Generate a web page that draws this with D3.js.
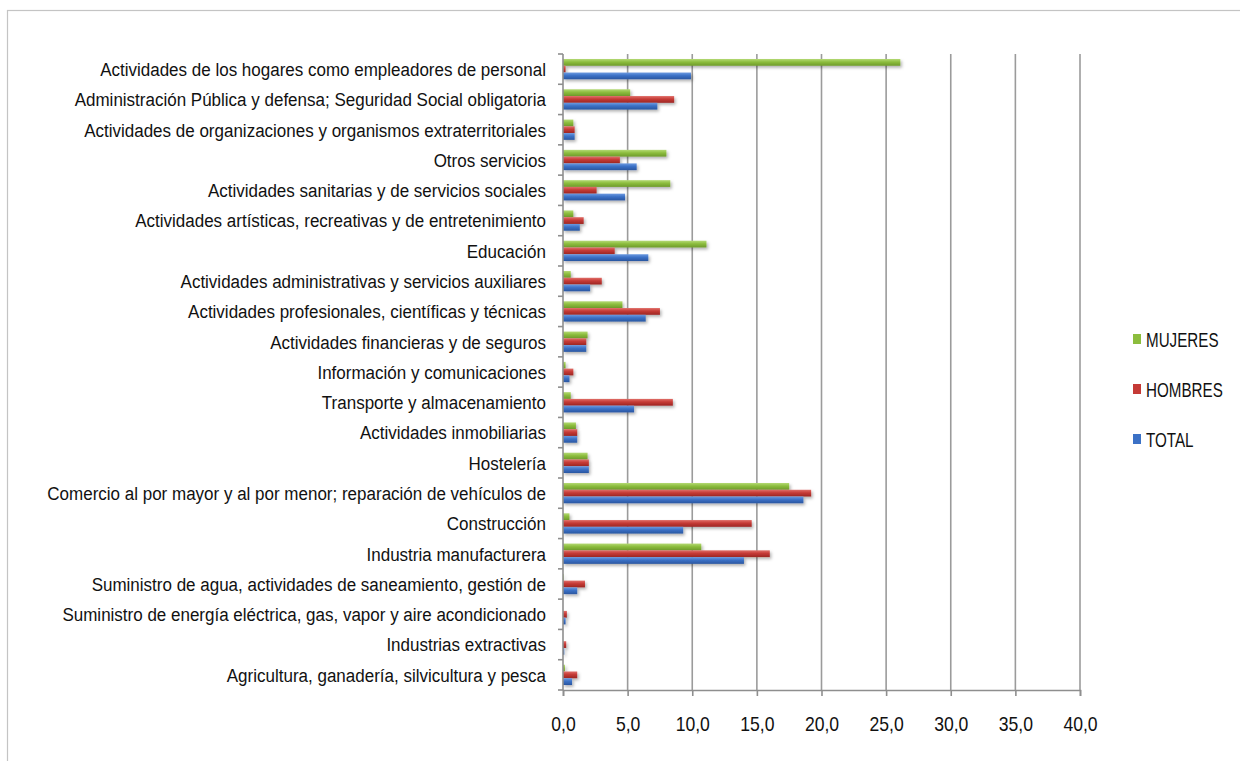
<!DOCTYPE html>
<html>
<head>
<meta charset="utf-8">
<script src="https://cdn.jsdelivr.net/npm/d3@7"></script>
<style>
  html, body { margin: 0; padding: 0; background: #fff; }
  svg { display: block; }
  text { font-family: "Liberation Sans", Arial, sans-serif; fill: #111; }
</style>
</head>
<body>
<svg id="chart" width="1240" height="761"></svg>
<script>
// Sectors, listed from the bottom of the chart to the top
const categories = [
  "Agricultura, ganadería, silvicultura y pesca",
  "Industrias extractivas",
  "Suministro de energía eléctrica, gas, vapor y aire acondicionado",
  "Suministro de agua, actividades de saneamiento, gestión de",
  "Industria manufacturera",
  "Construcción",
  "Comercio al por mayor y al por menor; reparación de vehículos de",
  "Hostelería",
  "Actividades inmobiliarias",
  "Transporte y almacenamiento",
  "Información y comunicaciones",
  "Actividades financieras y de seguros",
  "Actividades profesionales, científicas y técnicas",
  "Actividades administrativas y servicios auxiliares",
  "Educación",
  "Actividades artísticas, recreativas y de entretenimiento",
  "Actividades sanitarias y de servicios sociales",
  "Otros servicios",
  "Actividades de organizaciones y organismos extraterritoriales",
  "Administración Pública y defensa; Seguridad Social obligatoria",
  "Actividades de los hogares como empleadores de personal"
];

// Percentages per sector, same order as categories
const total   = [0.7, 0.1, 0.2, 1.1, 14.0, 9.3, 18.6, 2.0, 1.1, 5.5, 0.5, 1.8, 6.4, 2.1, 6.6, 1.3, 4.8, 5.7, 0.9, 7.3, 9.9];
const hombres = [1.1, 0.25, 0.3, 1.7, 16.0, 14.6, 19.2, 2.0, 1.1, 8.5, 0.8, 1.8, 7.5, 3.0, 4.0, 1.6, 2.6, 4.4, 0.9, 8.6, 0.2];
const mujeres = [0.15, 0.0, 0.0, 0.05, 10.7, 0.5, 17.5, 1.9, 1.0, 0.6, 0.2, 1.9, 4.6, 0.6, 11.1, 0.8, 8.3, 8.0, 0.8, 5.2, 26.1];

const xTicks = [0, 5, 10, 15, 20, 25, 30, 35, 40];

// Series drawn top-to-bottom inside each band; legend order too
const series = [
  { key: "MUJERES", values: mujeres, color: "#8cbd3d", light: "#b4d975", dark: "#6e9a2b" },
  { key: "HOMBRES", values: hombres, color: "#c53a36", light: "#e06f69", dark: "#9c2622" },
  { key: "TOTAL",   values: total,   color: "#3b71c6", light: "#6d9ae0", dark: "#2a56a0" }
];

const svg = d3.select("#chart");

// Outer chart frame
svg.append("rect")
  .attr("x", 7.5).attr("y", 10.5)
  .attr("width", 1260).attr("height", 800)
  .attr("fill", "none").attr("stroke", "#c4c4c4").attr("stroke-width", 1.2);

const plot = { left: 563, right: 1080, top: 54, bottom: 690 };

const x = d3.scaleLinear().domain([0, 40]).range([plot.left, plot.right]);
const y = d3.scaleBand()
  .domain(categories.slice().reverse())
  .range([plot.top, plot.bottom])
  .paddingInner(0.33).paddingOuter(0.165);
const ySub = d3.scaleBand()
  .domain(series.map(s => s.key))
  .range([0, y.bandwidth()]);

const defs = svg.append("defs");
series.forEach((s, i) => {
  const g = defs.append("linearGradient")
    .attr("id", "grad" + i).attr("x1", 0).attr("y1", 0).attr("x2", 0).attr("y2", 1);
  g.append("stop").attr("offset", "0%").attr("stop-color", s.light);
  g.append("stop").attr("offset", "45%").attr("stop-color", s.color);
  g.append("stop").attr("offset", "100%").attr("stop-color", s.dark);
});
const shadow = defs.append("filter").attr("id", "shadow")
  .attr("x", "-5%").attr("y", "-50%").attr("width", "120%").attr("height", "250%");
shadow.append("feDropShadow")
  .attr("dx", 1.5).attr("dy", 2).attr("stdDeviation", 1.5)
  .attr("flood-color", "#000").attr("flood-opacity", 0.3);

// Vertical gridlines
svg.append("g")
  .selectAll("line")
  .data(xTicks.slice(1))
  .join("line")
  .attr("x1", d => x(d)).attr("x2", d => x(d))
  .attr("y1", plot.top).attr("y2", plot.bottom)
  .attr("stroke", "#9b9b9b").attr("stroke-width", 1.6);

// Bars
const bandOf = d3.scaleBand().domain(categories.slice().reverse()).range([plot.top, plot.bottom]);
series.forEach((s, i) => {
  svg.append("g")
    .attr("filter", "url(#shadow)")
    .selectAll("rect")
    .data(categories.map((c, j) => ({ c, v: s.values[j] })))
    .join("rect")
    .attr("x", x(0))
    .attr("y", d => y(d.c) + ySub(s.key))
    .attr("width", d => Math.max(0, x(d.v) - x(0)))
    .attr("height", ySub.bandwidth())
    .attr("fill", "url(#grad" + i + ")");
});

// Category axis
const yAxis = svg.append("g");
yAxis.append("line")
  .attr("x1", plot.left).attr("x2", plot.left)
  .attr("y1", plot.top).attr("y2", plot.bottom)
  .attr("stroke", "#8e8e8e").attr("stroke-width", 1.6);
const boundaries = d3.range(categories.length + 1).map(k => plot.top + k * bandOf.step());
yAxis.selectAll("line.tick")
  .data(boundaries)
  .join("line").attr("class", "tick")
  .attr("x1", plot.left - 5).attr("x2", plot.left)
  .attr("y1", d => d).attr("y2", d => d)
  .attr("stroke", "#8e8e8e").attr("stroke-width", 1.6);
// Labels use a taller, horizontally condensed face
yAxis.selectAll("text")
  .data(categories)
  .join("text")
  .attr("transform", d => `translate(${plot.left - 17},${bandOf(d) + bandOf.bandwidth() / 2}) scale(0.895,1)`)
  .attr("dy", "0.36em")
  .attr("text-anchor", "end")
  .attr("font-size", 19)
  .text(d => d);

// Value axis
const xAxis = svg.append("g")
  .attr("transform", `translate(0,${plot.bottom})`)
  .call(d3.axisBottom(x).tickValues(xTicks).tickSize(6).tickPadding(21)
    .tickFormat(d => d3.format(".1f")(d).replace(".", ",")));
xAxis.select(".domain").attr("stroke", "#8e8e8e").attr("stroke-width", 1.6);
xAxis.selectAll(".tick line").attr("stroke", "#8e8e8e").attr("stroke-width", 1.6);
xAxis.selectAll(".tick text")
  .attr("font-size", 20)
  .attr("font-family", "Liberation Sans, Arial, sans-serif")
  .attr("fill", "#111")
  .attr("transform", "scale(0.88,1)");

// Legend
const legend = svg.append("g");
series.forEach((s, i) => {
  const gy = 340 + i * 50;
  legend.append("rect")
    .attr("x", 1133).attr("y", gy - 6)
    .attr("width", 8).attr("height", 10)
    .attr("fill", s.color);
  legend.append("text")
    .attr("transform", `translate(1146,${gy}) scale(0.76,1)`)
    .attr("dy", "0.36em")
    .attr("font-size", 20)
    .text(s.key);
});
</script>
</body>
</html>
